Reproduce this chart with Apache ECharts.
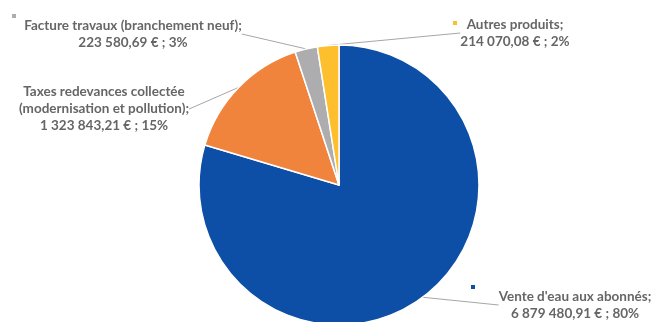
<!DOCTYPE html>
<html><head><meta charset="utf-8">
<script src="https://cdn.jsdelivr.net/npm/echarts@6/dist/echarts.min.js"></script>
<style>html,body{margin:0;padding:0;background:#fff}#c{width:655px;height:322px}</style>
</head><body><div id="c"></div>
<script>
const categories = ["Vente d'eau aux abonnés", "Taxes redevances collectée (modernisation et pollution)", "Facture travaux (branchement neuf)", "Autres produits"];
const labelLines = [
  ["Vente d'eau aux abonnés;", "6 879 480,91 € ; 80%"],
  ["Taxes redevances collectée", "(modernisation et pollution);", "1 323 843,21 € ; 15%"],
  ["Facture travaux (branchement neuf);", "223 580,69 € ; 3%"],
  ["Autres produits;", "214 070,08 € ; 2%"]
];
const values = [6879480.91, 1323843.21, 223580.69, 214070.08];
const colors = ['#0D4FA6', '#F0843C', '#ADADB0', '#FDBF2D'];

const labelPos = [
  {x: 575, y: 305},
  {x: 104, y: 109},
  {x: 133, y: 34},
  {x: 515, y: 33}
];
const legendPos = [
  {name: 0, left: 469, top: 283},
  {name: 2, left: 10, top: 12},
  {name: 3, left: 451, top: 19}
];

const chart = echarts.init(document.getElementById('c'), null, {renderer: 'canvas'});
const font = 'Lato, "Open Sans", sans-serif';
chart.setOption({
  animation: false,
  color: colors,
  legend: legendPos.map(l => ({
    data: [categories[l.name]],
    left: l.left, top: l.top, padding: 0,
    icon: 'rect', itemWidth: 6, itemHeight: 6,
    formatter: () => '', selectedMode: false,
    textStyle: {fontSize: 1}
  })),
  series: [{
    type: 'pie',
    center: [339, 185],
    radius: 140,
    startAngle: 90,
    clockwise: true,
    avoidLabelOverlap: false,
    data: categories.map((c, i) => ({name: c, value: values[i]})),
    itemStyle: {borderColor: '#fff', borderWidth: 1.5},
    label: {
      show: true,
      position: 'outside',
      formatter: p => labelLines[p.dataIndex].join('\n'),
      fontFamily: font,
      fontWeight: 'bold',
      fontSize: 13.5,
      lineHeight: 17,
      color: '#666666',
      align: 'center'
    },
    labelLine: {show: true, length: 10, length2: 0, lineStyle: {color: '#a6a6a6', width: 1}},
    labelLayout: p => ({
      x: labelPos[p.dataIndex].x,
      y: labelPos[p.dataIndex].y,
      align: 'center',
      verticalAlign: 'middle'
    }),
    emphasis: {disabled: true}
  }]
});
</script></body></html>
